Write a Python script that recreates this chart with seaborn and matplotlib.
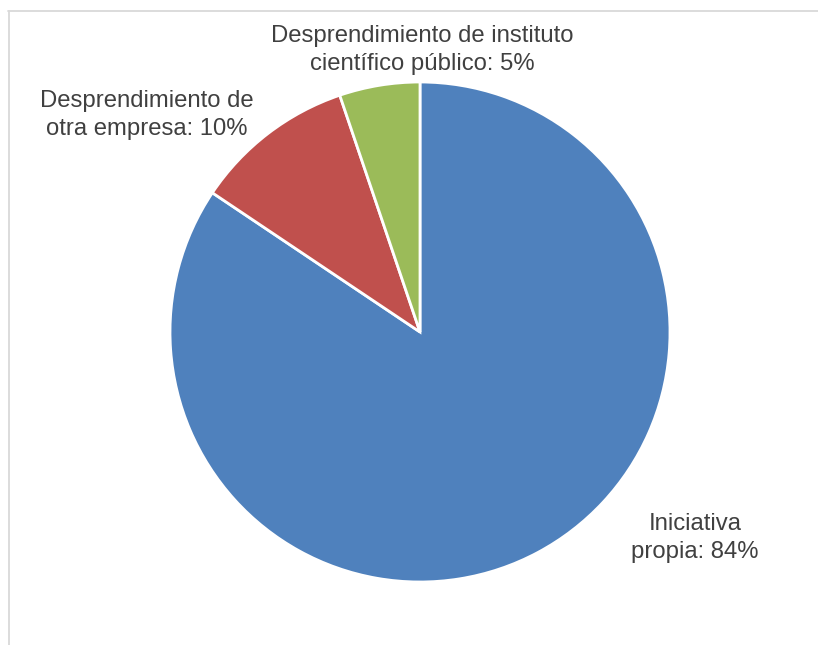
import matplotlib
matplotlib.use("Agg")
import matplotlib.pyplot as plt
from matplotlib.lines import Line2D
import seaborn as sns

categories = ["Iniciativa\npropia", "Desprendimiento de\notra empresa",
              "Desprendimiento de instituto\ncientífico público"]
values = [84.4, 10.4, 5.2]
colors = ["#4F81BD", "#C0504D", "#9BBB59"]

sns.set_theme(style="white")
plt.rcParams["font.family"] = ["Liberation Sans", "DejaVu Sans"]

W, H = 818, 645
fig = plt.figure(figsize=(W / 100, H / 100), dpi=100)
fig.patch.set_facecolor("white")

cx, cy, r = 420, 332, 250
ax = fig.add_axes([(cx - r) / W, (H - cy - r) / H, 2 * r / W, 2 * r / H])
wedges, _ = ax.pie(values, colors=colors, startangle=90, counterclock=False,
                   wedgeprops=dict(edgecolor="white", linewidth=2))
ax.set_xlim(-1, 1)
ax.set_ylim(-1, 1)
ax.set_aspect("equal")
ax.axis("off")

total = sum(values)
label_pos = [(695, 538), (147, 115), (422, 50)]
for cat, v, (px, py) in zip(categories, values, label_pos):
    txt = f"{cat}: {round(v / total * 100)}%"
    fig.text(px / W, 1 - py / H, txt, ha="center", va="center",
             fontsize=17.2, color="#404040", linespacing=1.32)

# outer partial frame
fig.add_artist(Line2D([8 / W, 1], [1 - 11 / H, 1 - 11 / H], color="#d9d9d9", lw=1.3,
                      transform=fig.transFigure))
fig.add_artist(Line2D([9 / W, 9 / W], [1 - 11 / H, 0], color="#d9d9d9", lw=1.3,
                      transform=fig.transFigure))

fig.savefig("out.png", dpi=100)
